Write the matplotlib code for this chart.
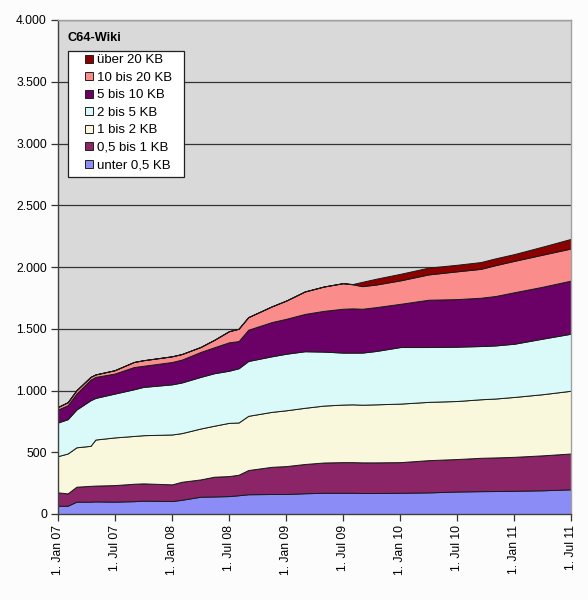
import numpy as np
import pandas as pd
import matplotlib
matplotlib.use("Agg")
from matplotlib import pyplot as plt
import matplotlib.dates as mdates
from matplotlib.lines import Line2D
from matplotlib.patches import Rectangle
from matplotlib.ticker import FuncFormatter, MultipleLocator

plt.rcParams['font.family'] = ['Liberation Sans', 'DejaVu Sans']

# sample dates
dates = pd.to_datetime([
    "2007-01-01", "2007-02-01", "2007-03-01", "2007-04-15", "2007-05-01",
    "2007-07-01", "2007-09-01", "2007-10-01", "2008-01-01", "2008-02-01",
    "2008-04-01", "2008-05-15", "2008-07-01", "2008-08-01", "2008-09-01",
    "2008-11-15", "2009-01-01", "2009-03-01", "2009-05-01", "2009-07-01",
    "2009-08-01", "2009-09-01", "2009-10-15", "2010-01-01", "2010-04-01",
    "2010-07-01", "2010-09-15", "2010-11-01", "2011-01-01", "2011-04-01",
    "2011-07-01",
])

# number of articles per size class (bottom to top of the stack)
unter_05 = [67, 67, 100, 100, 102, 100, 104, 108, 105, 115, 140, 142, 145, 152, 160, 162,
            162, 168, 172, 172, 172, 170, 170, 172, 175, 182, 185, 186, 188, 192, 200]
bis_1 = [108, 100, 121, 128, 128, 134, 141, 140, 135, 146, 140, 160, 162, 166, 196, 220,
         226, 237, 245, 248, 248, 248, 248, 248, 261, 263, 270, 272, 275, 283, 290]
bis_2 = [294, 323, 319, 324, 373, 386, 387, 390, 404, 394, 412, 413, 431, 423, 439, 445,
         452, 455, 461, 466, 468, 467, 470, 474, 472, 470, 474, 477, 485, 495, 508]
bis_5 = [272, 278, 306, 369, 337, 355, 378, 391, 406, 410, 418, 425, 422, 439, 444, 450,
         458, 458, 437, 421, 419, 422, 432, 458, 444, 440, 431, 430, 431, 450, 462]
bis_10 = [105, 113, 129, 167, 170, 162, 180, 171, 181, 185, 202, 210, 230, 220, 253, 277,
          283, 302, 330, 355, 358, 355, 355, 350, 383, 385, 391, 400, 417, 420, 430]
bis_20 = [21, 24, 27, 22, 20, 27, 41, 45, 46, 45, 40, 60, 90, 100, 102, 127,
          148, 182, 197, 207, 195, 183, 183, 190, 205, 225, 234, 250, 254, 260, 260]
ueber_20 = [0, 0, 0, 0, 0, 0, 0, 0, 0, 0, 0, 0, 0, 0, 0, 0,
            0, 0, 0, 0, 2, 35, 47, 53, 55, 53, 55, 55, 55, 65, 78]

labels = ["unter 0,5 KB", "0,5 bis 1 KB", "1 bis 2 KB", "2 bis 5 KB",
          "5 bis 10 KB", "10 bis 20 KB", "über 20 KB"]
colors = ["#8C8CF7", "#8C2468", "#FAF8DC", "#DAF9F9", "#6B0066", "#FA8C8C", "#8B0000"]

W, H = 588, 600
fig = plt.figure(figsize=(W / 100, H / 100), dpi=100, facecolor="#FCFCFC")
ax = fig.add_axes([58 / W, 1 - 514 / H, 513 / W, 494 / H])
ax.set_facecolor("#D9D9D9")

ax.stackplot(dates, unter_05, bis_1, bis_2, bis_5, bis_10, bis_20, ueber_20,
             colors=colors, edgecolor="#1a1a1a", linewidth=0.7, zorder=2)

ax.set_ylim(0, 4000)
ax.set_xlim(pd.Timestamp("2007-01-01"), pd.Timestamp("2011-07-01"))
ax.yaxis.set_major_locator(MultipleLocator(500))
ax.yaxis.set_major_formatter(FuncFormatter(lambda v, p: f"{int(v):,}".replace(",", ".")))
ax.xaxis.set_major_locator(mdates.MonthLocator(bymonth=[1, 7]))
ax.xaxis.set_major_formatter(mdates.DateFormatter("1. %b %y"))
ax.grid(axis="y", color="#333333", linewidth=0.9)
ax.set_axisbelow(True)

ax.tick_params(axis="both", direction="out", length=5, width=0.9, color="#333333",
               labelsize=8.7, labelcolor="black")
ax.tick_params(axis="x", labelrotation=90, pad=3)
ax.tick_params(axis="y", pad=3)
for side in ["top", "right"]:
    ax.spines[side].set_color("#A0A0A0")
    ax.spines[side].set_linewidth(1)
for side in ["left", "bottom"]:
    ax.spines[side].set_color("#404040")
    ax.spines[side].set_linewidth(1)

fig.text(68 / W, 1 - 38 / H, "C64-Wiki", fontsize=9.2, fontweight="bold",
         ha="left", va="center")

# legend box (Excel style, wide left padding)
fig.patches.append(Rectangle((68 / W, 1 - 177 / H), 116 / W, 126 / H,
                             transform=fig.transFigure, facecolor="white",
                             edgecolor="#202020", linewidth=0.9, zorder=3))

handles = [Line2D([], [], linestyle="none", marker="s", markersize=5.2,
                  markerfacecolor=c, markeredgecolor="#202020", markeredgewidth=0.7)
           for c in colors]
leg = fig.legend(handles[::-1], labels[::-1], loc="upper left",
                 bbox_to_anchor=(72 / W, 1 - 54 / H), fontsize=9.5,
                 frameon=False, borderpad=0, labelspacing=0.4,
                 handlelength=2.6, handletextpad=-0.68, borderaxespad=0)
leg.set_zorder(4)

fig.savefig("out.png", dpi=100, facecolor=fig.get_facecolor())
